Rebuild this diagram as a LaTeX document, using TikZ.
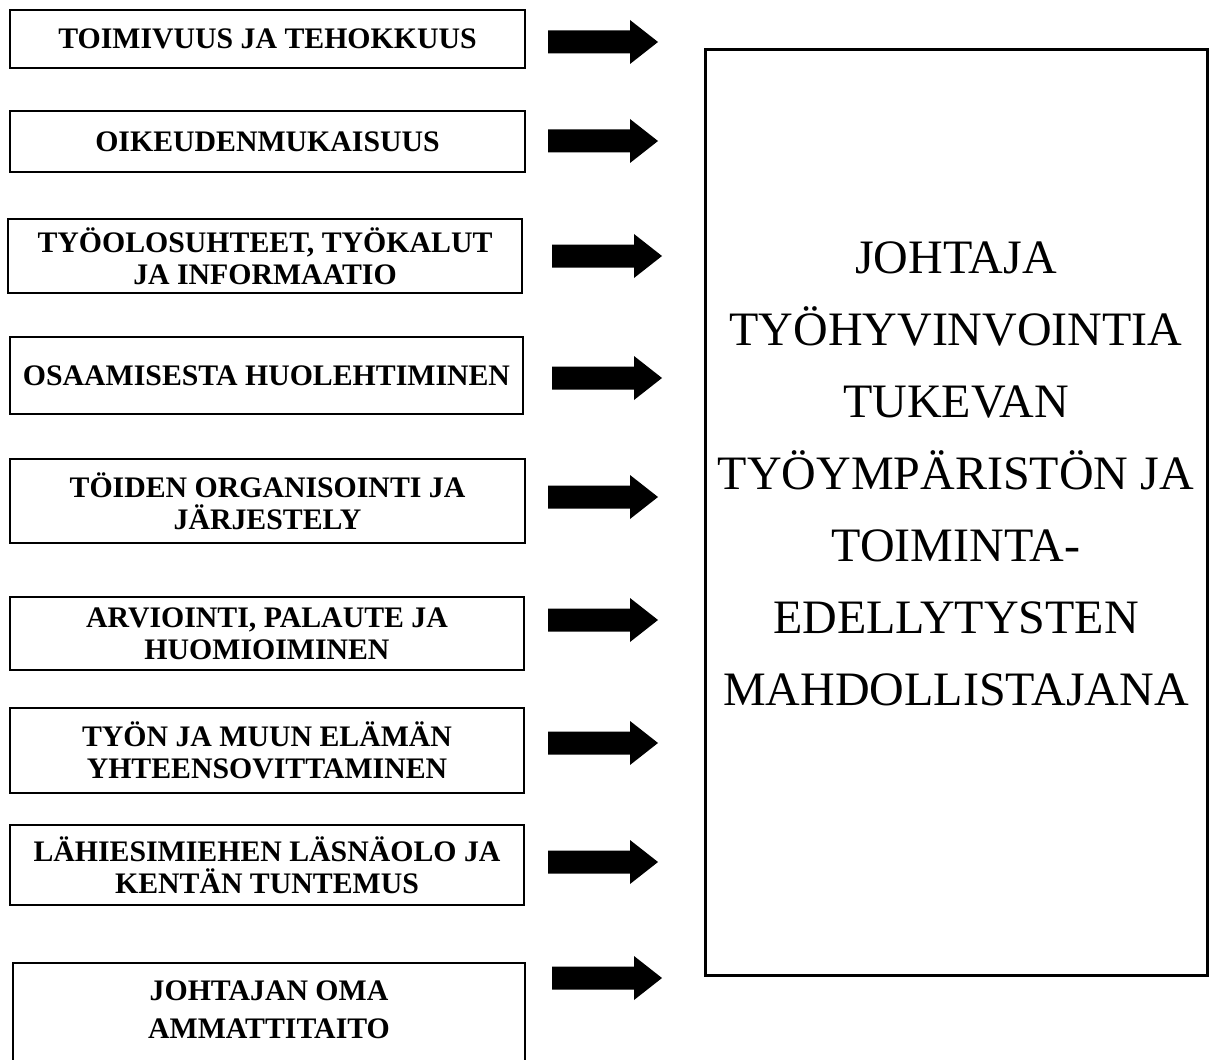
\documentclass[tikz,border=0pt]{standalone}
\usepackage{fontspec}
\setmainfont{Liberation Serif}
\begin{document}
\begin{tikzpicture}[x=1pt, y=-1pt,
  factor/.style={draw, line width=2.5pt, rectangle, inner sep=0pt, align=center,
    font=\bfseries\fontsize{29.8}{32}\selectfont},
  hub/.style={draw, line width=3pt, rectangle, inner sep=0pt},
  hubtext/.style={align=center, inner sep=0pt, font=\fontsize{48}{72}\selectfont},
  fatarrow/.style={fill=black}
]
\useasboundingbox (0,0) rectangle (1214,1059);
\clip (0,0) rectangle (1214,1059);

% factor boxes: centre x/y, width, height
\node[factor, minimum width=515, minimum height=58] (b1) at (267.5,39)
  {TOIMIVUUS JA TEHOKKUUS};
\node[factor, minimum width=515, minimum height=61] (b2) at (267.5,141.5)
  {OIKEUDENMUKAISUUS};
\node[factor, minimum width=514, minimum height=74] (b3) at (265,256)
  {TYÖOLOSUHTEET, TYÖKALUT\\JA INFORMAATIO};
\node[factor, minimum width=513, minimum height=77] (b4) at (266.5,375.5)
  {OSAAMISESTA HUOLEHTIMINEN};
\node[factor, minimum width=515, minimum height=84] (b5) at (267.5,501)
  {TÖIDEN ORGANISOINTI JA\\JÄRJESTELY};
\node[factor, minimum width=514, minimum height=73] (b6) at (267,633.5)
  {ARVIOINTI, PALAUTE JA\\HUOMIOIMINEN};
\node[factor, minimum width=514, minimum height=85] (b7) at (267,750.5)
  {TYÖN JA MUUN ELÄMÄN\\YHTEENSOVITTAMINEN};
\node[factor, minimum width=514, minimum height=80] (b8) at (267,865)
  {LÄHIESIMIEHEN LÄSNÄOLO JA\\KENTÄN TUNTEMUS};
% the last box runs past the lower edge of the page
\node[factor, minimum width=512, minimum height=130] (b9) at (269,1028)
  {};
\node[align=center, inner sep=0pt, font=\bfseries\fontsize{29.8}{38}\selectfont]
  (b9text) at (269,1010) {JOHTAJAN OMA\\AMMATTITAITO};

% central box
\node[hub, minimum width=502, minimum height=925] (hub) at (956,512.5) {};
\node[hubtext] (hubtxt) at (956,474)
  {JOHTAJA\\TYÖHYVINVOINTIA\\TUKEVAN\\TYÖYMPÄRISTÖN JA\\TOIMINTA-\\EDELLYTYSTEN\\MAHDOLLISTAJANA};

% block arrows: tail coordinate at shaft middle
\foreach \i/\ax/\ay in {1/548/42, 2/548/141, 3/552/256, 4/552/378, 5/548/497,
                        6/548/620, 7/548/743, 8/548/862, 9/552/978}{
  \coordinate (t\i) at (\ax,\ay);
  \fill[fatarrow] (t\i) ++(0,-11.5) -- ++(82,0) -- ++(0,-10.5) -- ++(28,22)
    -- ++(-28,22) -- ++(0,-10.5) -- ++(-82,0) -- cycle;
}
\end{tikzpicture}
\end{document}
